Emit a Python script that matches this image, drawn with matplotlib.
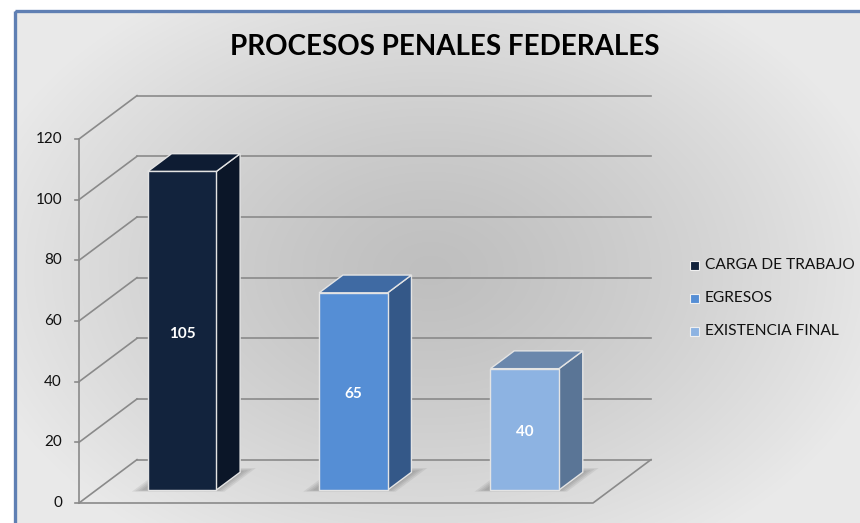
import numpy as np
import matplotlib.pyplot as plt
from matplotlib.patches import Polygon, Rectangle
from matplotlib.transforms import offset_copy

categories = ["CARGA DE TRABAJO", "EGRESOS", "EXISTENCIA FINAL"]
values = [105, 65, 40]
front_colors = ["#12233d", "#558ed5", "#8db3e2"]
side_colors = ["#0b1628", "#345888", "#5a7596"]
top_colors = ["#0e1c33", "#3f6aa3", "#6a87ac"]
yticks = [0, 20, 40, 60, 80, 100, 120]

plt.rcParams['font.family'] = ['Lato', 'DejaVu Sans']

W, H = 860, 523
fig = plt.figure(figsize=(W / 100, H / 100), dpi=100)
fig.patch.set_facecolor("white")

# --- background panel (pixel coordinates) ---
bg = fig.add_axes([0, 0, 1, 1])
bg.set_xlim(0, W)
bg.set_ylim(H, 0)
bg.axis("off")

yy, xx = np.mgrid[0:H, 0:W]
r = np.sqrt(((xx - 430) / 470.0) ** 2 + ((yy - 270) / 330.0) ** 2)
r = np.clip(r, 0, 1)
shade = 0.75 + (0.915 - 0.75) * r ** 1.3
img = np.dstack([shade, shade, shade])
bg.imshow(img[11:, 15:], extent=(15, W, H, 11), aspect="auto", zorder=0)
bg.add_patch(Rectangle((15, 11), W, H, fill=False, edgecolor="#5f7fb3",
                       linewidth=2.4, zorder=1))

bg.text(445, 47, "PROCESOS PENALES FEDERALES", ha="center", va="center",
        fontsize=20, fontweight="bold", color="black")

# legend
for i, (name, col) in enumerate(zip(categories, front_colors)):
    yc = 265 + i * 33
    bg.add_patch(Rectangle((690, yc - 4.5), 9, 9, facecolor=col,
                           edgecolor="#f0f0f0", linewidth=0.8, zorder=3))
    bg.text(705, yc, name, ha="left", va="center", fontsize=11.2, color="#111111")

# --- pseudo-3D plot area ---
ax = fig.add_axes([79 / W, (H - 503) / H, 514 / W, 364 / H])
ax.set_xlim(-0.5, 2.5)
ax.set_ylim(0, 120)
ax.axis("off")
ax.patch.set_alpha(0)

DX = 58 / 171.33   # depth shift in category units
DY = 14.3          # depth shift in value units


def proj(x, y, d):
    return (x + d * DX, y + d * DY)


grid_kw = dict(color="#8a8a8a", linewidth=1.2, clip_on=False, zorder=1)
x_left, x_right = -0.5, 2.5
for t in yticks:
    a, b = proj(x_left, t, 1), proj(x_right, t, 1)
    ax.plot([a[0], b[0]], [a[1], b[1]], **grid_kw)
    a, b = proj(x_left, t, 0), proj(x_left, t, 1)
    ax.plot([a[0], b[0]], [a[1], b[1]], **grid_kw)

# floor outline
a, b, c = proj(x_left, 0, 0), proj(x_right, 0, 0), proj(x_right, 0, 1)
ax.plot([a[0], b[0], c[0]], [a[1], b[1], c[1]], **grid_kw)

# vertical axis, tick marks and labels
ax.plot([x_left, x_left], [0, 120], **grid_kw)
lab_tr = offset_copy(ax.transData, fig, x=-17, y=0, units="dots")
for t in yticks:
    ax.plot([x_left - 4 / 171.33, x_left], [t, t], **grid_kw)
    ax.text(x_left, t, str(t), transform=lab_tr, ha="right", va="center",
            fontsize=11, color="#111111")

# bars
half = 0.2
d0, d1 = 0.3, 0.71
for i, v in enumerate(values):
    x0, x1 = i - half, i + half
    # soft shadow on the floor
    for grow in [0.06, 0.045, 0.03, 0.015]:
        gd = grow * 1.6
        shadow = [proj(x0 - grow - 0.02, 0, d0 - gd * 0.4),
                  proj(x1 + grow, 0, d0 - gd * 0.4),
                  proj(x1 + grow, 0, d1 + gd),
                  proj(x0 - grow - 0.02, 0, d1 + gd)]
        ax.add_patch(Polygon(shadow, closed=True, facecolor="#505050",
                             edgecolor="none", alpha=0.1, zorder=2,
                             clip_on=False))
    edge = dict(edgecolor="#e4e4e4", linewidth=1.0, clip_on=False, zorder=3)
    front = [proj(x0, 0, d0), proj(x1, 0, d0), proj(x1, v, d0), proj(x0, v, d0)]
    side = [proj(x1, 0, d0), proj(x1, 0, d1), proj(x1, v, d1), proj(x1, v, d0)]
    top = [proj(x0, v, d0), proj(x1, v, d0), proj(x1, v, d1), proj(x0, v, d1)]
    ax.add_patch(Polygon(side, closed=True, facecolor=side_colors[i], **edge))
    ax.add_patch(Polygon(top, closed=True, facecolor=top_colors[i], **edge))
    ax.add_patch(Polygon(front, closed=True, facecolor=front_colors[i], **edge))
    cx, cy = proj(i, v / 2, d0)
    ax.text(cx, cy - 1, str(v), ha="center", va="center", fontsize=11,
            fontweight="bold", color="white", zorder=4)

fig.savefig("out.png", dpi=100)
